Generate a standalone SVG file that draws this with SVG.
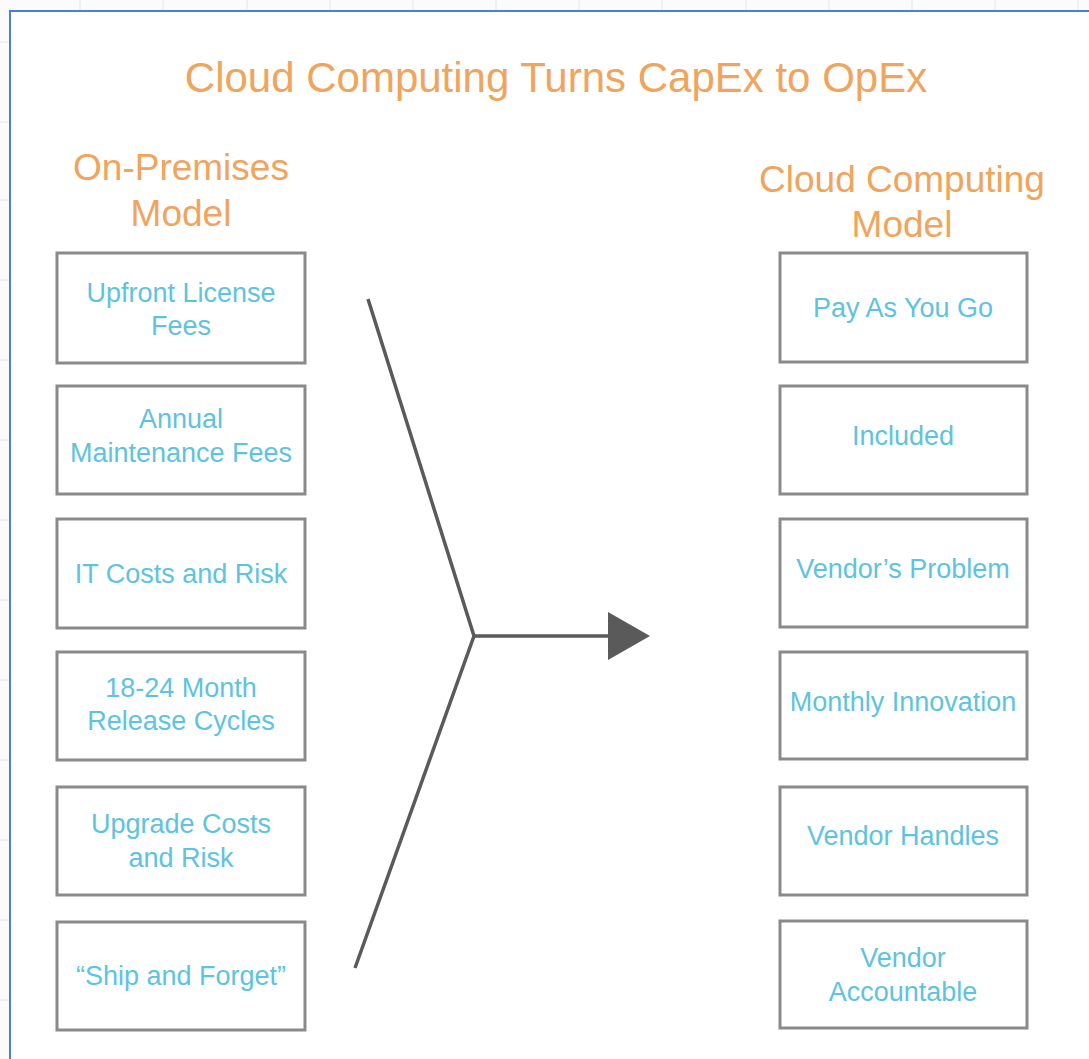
<svg xmlns="http://www.w3.org/2000/svg" width="1089" height="1059" viewBox="0 0 1089 1059">
  <style>
    .box { fill: #ffffff; stroke: #8a8a8a; stroke-width: 3; }
    .bt { font-family: "Liberation Sans", Arial, sans-serif; font-size: 27px; fill: #5ec3e0; text-anchor: middle; }
    .hd { font-family: "Liberation Sans", Arial, sans-serif; font-size: 37px; fill: #f0a45c; text-anchor: middle; }
    .title { font-family: "Liberation Sans", Arial, sans-serif; font-size: 42px; fill: #f0a45c; text-anchor: middle; }
    .grid { stroke: #e6e6e6; stroke-width: 1; }
    .conn { fill: none; stroke: #5a5a5a; stroke-width: 3.5; stroke-linejoin: miter; }
  </style>
  <defs>
    <marker id="arrow" markerUnits="userSpaceOnUse" markerWidth="42" markerHeight="48" viewBox="0 0 42 48" refX="1" refY="24" orient="auto">
      <path d="M0,0 L42,24 L0,48 Z" fill="#5a5a5a"/>
    </marker>
  </defs>
  <rect x="0" y="0" width="1089" height="1059" fill="#fbfbfb"/>
  <g id="grid">
    <line class="grid" x1="80" y1="0" x2="80" y2="11"/>
    <line class="grid" x1="163" y1="0" x2="163" y2="11"/>
    <line class="grid" x1="247" y1="0" x2="247" y2="11"/>
    <line class="grid" x1="330" y1="0" x2="330" y2="11"/>
    <line class="grid" x1="413" y1="0" x2="413" y2="11"/>
    <line class="grid" x1="496" y1="0" x2="496" y2="11"/>
    <line class="grid" x1="579" y1="0" x2="579" y2="11"/>
    <line class="grid" x1="662" y1="0" x2="662" y2="11"/>
    <line class="grid" x1="746" y1="0" x2="746" y2="11"/>
    <line class="grid" x1="829" y1="0" x2="829" y2="11"/>
    <line class="grid" x1="912" y1="0" x2="912" y2="11"/>
    <line class="grid" x1="995" y1="0" x2="995" y2="11"/>
    <line class="grid" x1="1078" y1="0" x2="1078" y2="11"/>
    <line class="grid" x1="0" y1="42" x2="10" y2="42"/>
    <line class="grid" x1="0" y1="122" x2="10" y2="122"/>
    <line class="grid" x1="0" y1="200" x2="10" y2="200"/>
    <line class="grid" x1="0" y1="280" x2="10" y2="280"/>
    <line class="grid" x1="0" y1="360" x2="10" y2="360"/>
    <line class="grid" x1="0" y1="440" x2="10" y2="440"/>
    <line class="grid" x1="0" y1="520" x2="10" y2="520"/>
    <line class="grid" x1="0" y1="600" x2="10" y2="600"/>
    <line class="grid" x1="0" y1="680" x2="10" y2="680"/>
    <line class="grid" x1="0" y1="760" x2="10" y2="760"/>
    <line class="grid" x1="0" y1="840" x2="10" y2="840"/>
    <line class="grid" x1="0" y1="920" x2="10" y2="920"/>
    <line class="grid" x1="0" y1="1000" x2="10" y2="1000"/>
  </g>
  <rect id="frame" x="10" y="11" width="1100" height="1100" fill="#ffffff" stroke="#4a7fd4" stroke-width="2"/>

  <text id="title" class="title" x="556" y="92">Cloud Computing Turns CapEx to OpEx</text>

  <g id="hdr-left">
    <text class="hd" x="181" y="180">On-Premises</text>
    <text class="hd" x="181" y="226">Model</text>
  </g>
  <g id="hdr-right">
    <text class="hd" x="902" y="192">Cloud Computing</text>
    <text class="hd" x="902" y="237">Model</text>
  </g>

  <g id="connectors">
    <path class="conn" d="M368,299 L474,636 L355,968"/>
    <line class="conn" x1="474" y1="636" x2="609" y2="636" marker-end="url(#arrow)"/>
  </g>

  <g id="l1"><rect class="box" x="57" y="253" width="248" height="110"/>
    <text class="bt" x="181" y="302">Upfront License</text><text class="bt" x="181" y="335">Fees</text></g>
  <g id="l2"><rect class="box" x="57" y="386" width="248" height="108"/>
    <text class="bt" x="181" y="428">Annual</text><text class="bt" x="181" y="462">Maintenance Fees</text></g>
  <g id="l3"><rect class="box" x="57" y="519" width="248" height="109"/>
    <text class="bt" x="181" y="583">IT Costs and Risk</text></g>
  <g id="l4"><rect class="box" x="57" y="652" width="248" height="108"/>
    <text class="bt" x="181" y="697">18-24 Month</text><text class="bt" x="181" y="730">Release Cycles</text></g>
  <g id="l5"><rect class="box" x="57" y="787" width="248" height="108"/>
    <text class="bt" x="181" y="833">Upgrade Costs</text><text class="bt" x="181" y="867">and Risk</text></g>
  <g id="l6"><rect class="box" x="57" y="922" width="248" height="108"/>
    <text class="bt" x="181" y="985">“Ship and Forget”</text></g>

  <g id="r1"><rect class="box" x="780" y="253" width="247" height="109"/>
    <text class="bt" x="903" y="317">Pay As You Go</text></g>
  <g id="r2"><rect class="box" x="780" y="386" width="247" height="108"/>
    <text class="bt" x="903" y="445">Included</text></g>
  <g id="r3"><rect class="box" x="780" y="519" width="247" height="108"/>
    <text class="bt" x="903" y="578">Vendor’s Problem</text></g>
  <g id="r4"><rect class="box" x="780" y="652" width="247" height="107"/>
    <text class="bt" x="903" y="711">Monthly Innovation</text></g>
  <g id="r5"><rect class="box" x="780" y="787" width="247" height="108"/>
    <text class="bt" x="903" y="845">Vendor Handles</text></g>
  <g id="r6"><rect class="box" x="780" y="921" width="247" height="107"/>
    <text class="bt" x="903" y="967">Vendor</text><text class="bt" x="903" y="1001">Accountable</text></g>
</svg>
